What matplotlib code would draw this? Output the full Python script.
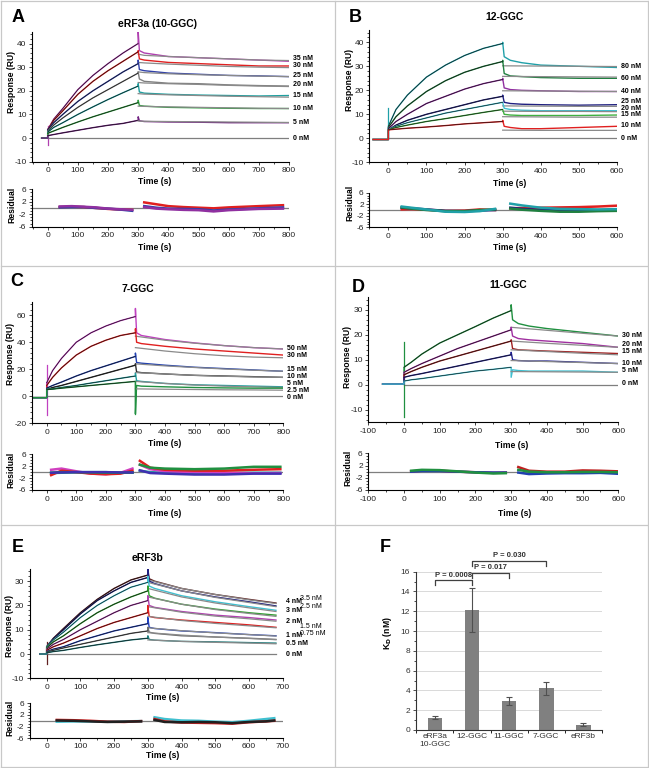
import matplotlib.pyplot as plt
from matplotlib.ticker import MultipleLocator, FixedLocator
from matplotlib.lines import Line2D
from matplotlib.transforms import blended_transform_factory

plt.rcParams['font.family'] = ['Liberation Sans', 'DejaVu Sans']
plt.rcParams['axes.unicode_minus'] = False

# ---------------- data ----------------
T_ASSOC = [0, 20, 50, 100, 150, 200, 250, 300]

# A: eRF3a (10-GGC)
a_conc = ['35 nM', '30 nM', '25 nM', '20 nM', '15 nM', '10 nM', '5 nM', '0 nM']
a_assoc = [[3.5, 8, 12.5, 20.5, 26.5, 31.5, 36, 40],
           [3.5, 7.5, 11.5, 18.5, 24, 28.5, 32.5, 36.5],
           [3.5, 6.5, 10, 15.5, 20, 24, 28, 31.5],
           [3, 5.5, 8.5, 13, 17, 20.5, 24, 27.5],
           [2.5, 4.5, 6.5, 10, 13.2, 16.3, 19.2, 22],
           [2, 3, 4.5, 6.8, 9, 11, 13, 15],
           [1, 1.5, 2.2, 3.3, 4.4, 5.4, 6.2, 7.5]]
a_td = [300, 304, 320, 400, 500, 600, 700, 800]
a_dissoc = [[45, 37, 36, 34.5, 34, 33.5, 33, 32.5],
            [37, 33.5, 33, 32, 31.5, 31, 30.5, 30.5],
            [33, 29, 28.5, 27.5, 27, 26.5, 26.3, 26],
            [28, 25, 24, 23.2, 23, 22.5, 22.2, 22],
            [23, 19.5, 19, 18.5, 18.2, 18, 17.8, 18],
            [16, 13.8, 13.5, 13, 12.8, 12.6, 12.5, 12.5],
            [9, 7.3, 7, 6.8, 6.7, 6.5, 6.5, 6.5]]
a_tf = [300, 320, 400, 500, 600, 700, 800]
a_fit = [[35.5, 35, 34.5, 34, 33.5, 33, 32.8],
         [32, 31.8, 31.3, 30.8, 30.3, 30, 29.8],
         [28, 27.7, 27.2, 26.8, 26.5, 26.2, 26],
         [23.5, 23.3, 23, 22.7, 22.3, 22, 21.8],
         [18.8, 18.6, 18.3, 18, 17.7, 17.5, 17.3],
         [13.5, 13.4, 13.2, 13, 12.8, 12.6, 12.5],
         [7.2, 7.1, 7, 6.9, 6.8, 6.7, 6.6]]
a_base = [-20, 0.0]
a_spike0 = [-3, 5]
a_lab_y = [33.5, 30.5, 26.5, 22.5, 18, 12.5, 6.5, 0]
a_res_ta = [40, 80, 120, 160, 200, 240, 280]
a_res_a = [[0.3, 0.4, 0.3, 0, -0.3, -0.5, -0.6],
           [0.2, 0.3, 0.3, 0, -0.2, -0.5, -0.9],
           [0.5, 0.6, 0.4, 0.2, -0.2, -0.4, -0.6]]
a_res_td = [320, 360, 400, 450, 500, 550, 600, 650, 700, 780]
a_res_d = [[1.8, 1.2, 0.6, 0.3, 0.1, -0.1, 0.2, 0.4, 0.6, 0.9],
           [0.6, 0.1, -0.2, -0.3, -0.4, -0.8, -0.5, -0.3, -0.1, 0.2],
           [0.3, -0.2, -0.4, -0.6, -0.7, -1.1, -0.7, -0.5, -0.3, -0.2]]

# B: 12-GGC
b_conc = ['80 nM', '60 nM', '40 nM', '25 nM', '20 nM', '15 nM', '10 nM', '0 nM']
b_assoc = [[5, 12, 18, 25.5, 30.5, 34.5, 37.5, 39.5],
           [4.5, 9, 13.5, 19.5, 24, 27.5, 30, 32],
           [4, 7, 10, 14.5, 17.5, 20.5, 22.8, 24.5],
           [3.5, 5.5, 7.5, 10, 12, 14, 16, 17.5],
           [3.5, 5, 6.5, 8.5, 10.5, 12, 13.5, 15],
           [3.5, 4.5, 5.5, 7, 8.2, 9.5, 10.8, 12],
           [3.5, 3.8, 4.2, 4.7, 5.3, 6, 6.5, 7]]
b_td = [300, 304, 320, 350, 400, 500, 600]
b_dissoc = [[40, 34, 32.5, 31.5, 30.5, 30, 29.5],
            [32.5, 27, 26, 25.7, 25.3, 25, 25],
            [25, 21, 20.3, 20, 19.8, 19.5, 19.5],
            [18, 15, 14.5, 14.2, 14, 13.8, 14],
            [15, 12.5, 12, 11.7, 11.5, 11.5, 11.5],
            [12, 10, 9.7, 9.5, 9.5, 9.5, 9.7],
            [7.5, 5, 4.5, 4, 4, 4.5, 5]]
b_tf = [300, 400, 500, 600]
b_fit = [[30.2, 30.1, 30, 29.9],
         [25.8, 25.7, 25.6, 25.5],
         [19.8, 19.7, 19.6, 19.5],
         [13.5, 13.4, 13.3, 13.3],
         [11.3, 11.2, 11.2, 11.1],
         [9, 8.9, 8.8, 8.8],
         [3.4, 3.3, 3.3, 3.3]]
b_base = [-40, -0.5]
b_spike0 = [-0.5, 12.5]
b_lab_y = [30, 25, 19.5, 15.5, 12.5, 10, 5.5, 0]
b_res_ta = [35, 60, 100, 150, 200, 240, 280]
b_res_a = [[0.2, 0.3, 0.1, -0.3, -0.2, 0.2, 0],
           [0.8, 0.6, 0.2, -0.3, -0.4, -0.2, 0],
           [0.9, 0.5, 0, -0.4, -0.4, 0, 0.2],
           [1.2, 0.8, 0.2, -0.6, -0.7, -0.4, 0.4]]
b_res_td = [320, 350, 400, 450, 500, 550, 600]
b_res_d = [[0.6, 0.7, 0.8, 0.9, 1.0, 1.2, 1.5],
           [0.8, 0.4, 0, -0.2, -0.2, -0.1, 0],
           [0.5, 0.1, -0.3, -0.6, -0.6, -0.4, -0.3],
           [2.2, 1.6, 0.8, 0.4, 0.3, 0.2, 0.3]]

# C: 7-GGC
c_conc = ['50 nM', '30 nM', '15 nM', '10 nM', '5 nM', '2.5 nM', '0 nM']
c_assoc = [[10, 19, 28, 40, 47, 52, 56, 59],
           [8, 14, 21, 30.5, 37, 41.5, 45, 47],
           [6, 8, 10.5, 15, 19, 22.5, 26, 29.5],
           [5, 6.5, 8, 11, 14, 17, 20, 23],
           [5, 5.5, 6.5, 8, 9.8, 11.5, 13.3, 15],
           [5, 5.3, 6, 7, 8, 9, 10, 11]]
c_td = [300, 304, 320, 400, 500, 600, 700, 800]
c_dissoc = [[65, 47, 45, 42, 39.5, 37.5, 36, 35],
            [50, 40, 39, 37, 35, 33.5, 32, 30.5],
            [32, 25, 24.5, 23, 21.5, 20.5, 19.5, 18.5],
            [24, 18, 17.5, 16.5, 15.5, 15, 14.5, 14],
            [17, 11.5, 11, 9.5, 8.5, 8, 7.5, 7],
            [-13, 8, 7.5, 7, 6.5, 6.2, 6, 6]]
c_tf = [300, 400, 500, 600, 700, 800]
c_fit = [[44.5, 41.5, 39.3, 37.5, 36, 35],
         [36, 33.5, 31.5, 30, 29, 28.5],
         [24, 22.5, 21.3, 20.2, 19.3, 18.5],
         [17.5, 16.5, 15.5, 14.8, 14.3, 14],
         [11, 9.5, 8.3, 7.5, 7, 6.5],
         [5.5, 5.2, 5, 4.8, 4.7, 4.5]]
c_base = [-50, -1]
c_spike0 = [-14, 23]
c_lab_y = [35.5, 30, 19.5, 14.5, 9.5, 4.5, -1]
c_res_ta = [15, 50, 100, 150, 200, 250, 290]
c_res_a = [[-0.3, -0.2, 0, 0, 0, -0.2, -0.2],
           [0.8, 1.2, 0.3, -0.5, -0.7, -0.2, 1.2],
           [-1.0, 0.5, 0, -0.5, -0.7, -0.5, 0.5],
           [-0.2, 0, 0, -0.1, -0.2, -0.2, -0.1],
           [-0.2, -0.1, 0, 0, 0, -0.1, -0.1]]
c_res_td = [315, 350, 400, 500, 600, 700, 790]
c_res_d = [[0.5, 0, -0.2, -0.3, -0.3, -0.2, -0.2],
           [2.5, 1.0, 0.3, 0, -0.2, -0.4, -0.3],
           [3.8, 1.5, 0.8, 0.5, 0.5, 0.8, 1.0],
           [2.5, 1.5, 1.2, 1.0, 1.2, 1.8, 1.8],
           [0.6, -0.3, -0.5, -0.8, -0.8, -0.5, -0.5]]

# D: 11-GGC
d_conc = ['30 nM', '20 nM', '15 nM', '10 nM', '5 nM', '0 nM']
d_assoc = [[7, 9, 12.3, 16.7, 20, 23.3, 26.7, 29.7],
           [5, 6.5, 8.5, 11.5, 14.5, 17, 19.5, 22],
           [4, 5.3, 7, 9.5, 11.5, 13.5, 15.5, 17.5],
           [3, 3.7, 4.5, 6, 7.5, 9, 10.5, 12],
           [1.5, 2, 2.5, 3.5, 4.5, 5.5, 6.2, 7]]
d_td = [300, 304, 320, 350, 400, 500, 600]
d_dissoc = [[32, 26, 24.5, 23.5, 22.5, 21, 19.5],
            [23, 19.5, 18.5, 18, 17.5, 16.5, 15],
            [18, 14.5, 14, 13.8, 13.5, 13, 12.5],
            [13, 10, 9.7, 9.5, 9.5, 9, 8.5],
            [3, 6, 5.7, 5.5, 5.5, 5.5, 5]]
d_tf = [300, 400, 500, 600]
d_fit = [[23, 21.8, 20.6, 19.5],
         [17.5, 16.6, 15.8, 15],
         [14, 13.3, 12.6, 12],
         [9.7, 9.3, 8.9, 8.5],
         [5.3, 5.2, 5.1, 5]]
d_base = [-60, 0.3]
d_spike0 = [-13, 17]
d_lab_y = [19.8, 16, 13.3, 8.7, 5.6, 0.5]
d_res_ta = [20, 50, 100, 150, 200, 250, 285]
d_res_a = [[0.1, 0.3, 0.3, 0, -0.2, -0.4, -0.3],
           [0, 0.2, 0.2, 0, -0.2, -0.3, -0.3],
           [0.3, 0.6, 0.5, 0.1, -0.3, -0.6, -0.5]]
d_res_td = [320, 350, 400, 450, 500, 550, 600]
d_res_d = [[1.5, 0.3, 0, 0, 0.4, 0.3, 0.1],
           [-0.3, -0.8, -0.6, -0.5, -0.5, -0.4, -0.7],
           [0.6, 0, -0.2, -0.2, -0.1, -0.1, -0.2]]

# E: eRF3b
e_conc = ['4 nM', '3.5 nM', '3 nM', '2.5 nM', '2 nM', '1.5 nM', '1 nM', '0.75 nM', '0.5 nM', '0 nM']
e_assoc = [[3, 6.5, 10.5, 17, 22.5, 27, 30.5, 32.5],
           [3, 6.3, 10, 16.5, 22, 26, 29.5, 31.5],
           [3, 5.8, 9, 15, 20, 24, 27.5, 29.5],
           [2.5, 5, 7.5, 12.5, 17, 20.5, 23.5, 26],
           [2, 4, 6, 10, 13.5, 17, 20, 22],
           [1.5, 3, 4.5, 7.5, 10.5, 13, 15, 17],
           [1, 2, 3, 5.5, 7.5, 9.5, 11, 12.5],
           [0.8, 1.5, 2.5, 4, 5.5, 7, 8.5, 9.5],
           [0.5, 1, 1.5, 2.7, 3.8, 4.8, 5.8, 6.5]]
e_td = [300, 304, 320, 400, 500, 600, 680]
e_dissoc = [[34, 31, 30, 27, 24.5, 22.5, 21],
            [36, 30, 29, 26, 23.5, 21.5, 19.8],
            [32, 28, 27, 24, 21.5, 19.5, 18],
            [28, 24, 23, 20.5, 18.5, 17, 16],
            [24, 20, 19.2, 17.5, 16, 15, 14],
            [20, 15.5, 15, 14, 13, 12, 11],
            [15, 11, 10.5, 9.5, 8.8, 8, 7.5],
            [11, 9, 8.5, 7.5, 7, 6.5, 6],
            [7.5, 6, 5.7, 5.2, 5, 4.7, 4.5]]
e_tf = [300, 400, 500, 600, 680]
e_fit = [[30.5, 27, 24.5, 22.3, 20.8],
         [29.5, 26, 23.3, 21.2, 19.5],
         [27, 23.5, 21, 19, 17.5],
         [23.5, 20.5, 18.3, 16.7, 15.5],
         [19.5, 17.2, 15.6, 14.5, 13.5],
         [15.5, 13.8, 12.6, 11.6, 10.8],
         [10.8, 9.6, 8.7, 8, 7.4],
         [8.8, 7.8, 7, 6.4, 5.9],
         [5.8, 5.2, 4.8, 4.5, 4.2]]
e_base = [-20, 0]
e_spike0 = [-4, 5]
e_lab_y = [21.5, 22.8, 18, 19.5, 13.5, 11.5, 7.5, 8.5, 4.5, 0]
e_res_ta = [30, 80, 130, 180, 230, 280]
e_res_a = [[-0.3, -0.2, -0.2, -0.3, -0.2, -0.1],
           [0.3, 0.2, 0, -0.3, -0.4, -0.1],
           [0.1, 0, -0.2, -0.4, -0.3, -0.2]]
e_res_td = [320, 350, 400, 450, 500, 550, 600, 650, 675]
e_res_d = [[1.2, 0.6, 0.1, 0, -0.3, -0.5, 0, 0.6, 0.9],
           [0.6, -0.2, -0.6, -0.7, -0.8, -1.0, -0.5, -0.2, 0],
           [0.3, -0.4, -0.5, -0.4, -0.5, -0.8, -0.4, -0.2, 0.1]]

# F: K_D summary
kd_names = ['eRF3a\n10-GGC', '12-GGC', '11-GGC', '7-GGC', 'eRF3b']
kd = [1.25, 12.15, 2.95, 4.2, 0.55]
kd_err = [0.17, 2.25, 0.42, 0.65, 0.12]
p_pairs = [(0, 1), (1, 2), (1, 3)]
p_text = ['P = 0.0008', 'P = 0.017', 'P = 0.030']
p_y = [15.15, 15.9, 17.1]

# ---------------- styles ----------------
a_colors = ['#b040b0', '#e02020', '#3040a8', '#808080', '#20a0a0', '#30a040', '#702080']
b_colors = ['#20a0a8', '#208040', '#9030a0', '#202080', '#40c0d0', '#40b040', '#e02020']
c_colors = ['#c040c0', '#e02020', '#2040b0', '#303030', '#20a0a0', '#209040']
d_colors = ['#209040', '#a030a0', '#a02020', '#202090', '#40c0d0']
e_colors = ['#602020', '#202080', '#40c0d0', '#30a030', '#b040b0', '#e02020', '#2040c0', '#707070', '#208080']
a_rcol = ['#e02020', '#3040a8', '#9030a0']
b_rcol = ['#e02020', '#202080', '#208040', '#20a0a8']
c_rcol = ['#20a0a0', '#d040c0', '#e02020', '#209040', '#4030b0']
d_rcol = ['#c02020', '#2040b0', '#209040']
e_rcol = ['#40c0d0', '#d02020', '#202020']

W, H = 649, 768
fig = plt.figure(figsize=(W / 100, H / 100), dpi=100)


def box(x0, y0, x1, y1):
    return fig.add_axes([x0 / W, 1 - y1 / H, (x1 - x0) / W, (y1 - y0) / H])


def ftext(x, y, s, **kw):
    fig.text(x / W, 1 - y / H, s, ha='center', va='center', **kw)


def style(ax, xlim, ylim, xmaj, ymaj, ymin):
    ax.set_xlim(xlim)
    ax.set_ylim(ylim)
    for s in ['top', 'right']:
        ax.spines[s].set_visible(False)
    for s in ['left', 'bottom']:
        ax.spines[s].set_linewidth(0.8)
    ax.xaxis.set_major_locator(MultipleLocator(xmaj))
    ax.xaxis.set_minor_locator(MultipleLocator(xmaj / 2))
    if isinstance(ymaj, list):
        ax.yaxis.set_major_locator(FixedLocator(ymaj))
    else:
        ax.yaxis.set_major_locator(MultipleLocator(ymaj))
    ax.yaxis.set_minor_locator(MultipleLocator(ymin))
    ax.tick_params(labelsize=6, length=2.5, width=0.6, pad=1.5, colors='#222222')
    ax.tick_params(which='minor', length=1.5, width=0.5)


def sensorgram(ax, conc, assoc, td, dissoc, tf, fit, base, spike0, colors, lab_y, two_col=False):
    ax.plot([0, td[-1]], [0, 0], color='#7f7f7f', lw=0.9)
    ax.plot([0, 0], spike0, color=colors[0], lw=0.9)
    for i in range(len(assoc)):
        x = [base[0], 0] + T_ASSOC + td
        y = [base[1], base[1]] + assoc[i] + dissoc[i]
        ax.plot(x, y, color=colors[i], lw=1.0)
        ax.plot(T_ASSOC, assoc[i], color='#111111', lw=0.45)
        ax.plot(tf, fit[i], color='#8a8a8a', lw=0.9)
    tr = blended_transform_factory(ax.transAxes, ax.transData)
    for i, (lab, y) in enumerate(zip(conc, lab_y)):
        right = two_col and i % 2 == 1 and i < 8
        ax.text(1.07 if right else 1.015, y, lab, transform=tr, fontsize=5,
                fontweight='normal' if right else 'bold', va='center', ha='left')


def residual(ax, ta, ra, td, rd, colors):
    ax.axhline(0, color='#7f7f7f', lw=0.9)
    for i, c in enumerate(colors):
        ax.plot(ta, ra[i], color=c, lw=1.8)
        ax.plot(td, rd[i], color=c, lw=1.8)


RES_TICKS = [-6, -2, 2, 6]
lab_kw = dict(fontsize=6.2, fontweight='bold')

# ---- A
ax = box(32, 31.7, 289, 161.7)
sensorgram(ax, a_conc, a_assoc, a_td, a_dissoc, a_tf, a_fit, a_base, a_spike0, a_colors, a_lab_y)
style(ax, (-52, 800), (-10, 45), 100, 10, 2)
ax = box(32, 189.3, 289, 226.7)
residual(ax, a_res_ta, a_res_a, a_res_td, a_res_d, a_rcol)
style(ax, (-52, 800), (-6, 6), 100, RES_TICKS, 1)
ftext(18, 18, 'A', fontsize=13, fontweight='bold')
ftext(157, 24, 'eRF3a (10-GGC)', fontsize=7.5, fontweight='bold')
ftext(12, 82, 'Response (RU)', rotation=90, **lab_kw)
ftext(12, 205, 'Residual', rotation=90, **lab_kw)
ftext(155, 182, 'Time (s)', **lab_kw)
ftext(155, 248, 'Time (s)', **lab_kw)

# ---- B
ax = box(369.3, 30.3, 617, 162.3)
sensorgram(ax, b_conc, b_assoc, b_td, b_dissoc, b_tf, b_fit, b_base, b_spike0, b_colors, b_lab_y)
style(ax, (-50, 600), (-10, 45), 100, 10, 2)
ax = box(369.3, 192.7, 617, 227.3)
residual(ax, b_res_ta, b_res_a, b_res_td, b_res_d, b_rcol)
style(ax, (-50, 600), (-6, 6), 100, RES_TICKS, 1)
ftext(355, 17, 'B', fontsize=13, fontweight='bold')
ftext(505, 17, '12-GGC', fontsize=7.5, fontweight='bold')
ftext(350, 80, 'Response (RU)', rotation=90, **lab_kw)
ftext(350, 203, 'Residual', rotation=90, **lab_kw)
ftext(510, 184, 'Time (s)', **lab_kw)
ftext(510, 247, 'Time (s)', **lab_kw)

# ---- C
ax = box(31.9, 301.7, 283.3, 423.3)
sensorgram(ax, c_conc, c_assoc, c_td, c_dissoc, c_tf, c_fit, c_base, c_spike0, c_colors, c_lab_y)
ax.plot([300, 300], [c_dissoc[-1][0], c_assoc[-1][-1]], color=c_colors[-1], lw=0.9)
style(ax, (-50, 800), (-20, 70), 100, 20, 4)
ax = box(31.9, 454.3, 283.3, 490)
residual(ax, c_res_ta, c_res_a, c_res_td, c_res_d, c_rcol)
style(ax, (-50, 800), (-6, 6), 100, RES_TICKS, 1)
ftext(17, 281, 'C', fontsize=13, fontweight='bold')
ftext(138, 289, '7-GGC', fontsize=7.5, fontweight='bold')
ftext(11, 354, 'Response (RU)', rotation=90, **lab_kw)
ftext(11, 470, 'Residual', rotation=90, **lab_kw)
ftext(165, 443, 'Time (s)', **lab_kw)
ftext(165, 513, 'Time (s)', **lab_kw)

# ---- D
ax = box(368.3, 297.3, 618.3, 422.3)
sensorgram(ax, d_conc, d_assoc, d_td, d_dissoc, d_tf, d_fit, d_base, d_spike0, d_colors, d_lab_y)
style(ax, (-100, 600), (-15, 35), 100, 10, 2)
ax = box(368.3, 453.3, 618.3, 490)
residual(ax, d_res_ta, d_res_a, d_res_td, d_res_d, d_rcol)
style(ax, (-100, 600), (-6, 6), 100, RES_TICKS, 1)
ftext(358, 288, 'D', fontsize=13, fontweight='bold')
ftext(508, 285, '11-GGC', fontsize=7.5, fontweight='bold')
ftext(348, 357, 'Response (RU)', rotation=90, **lab_kw)
ftext(348, 468, 'Residual', rotation=90, **lab_kw)
ftext(512, 445, 'Time (s)', **lab_kw)
ftext(515, 513, 'Time (s)', **lab_kw)

# ---- E
ax = box(29.8, 569, 282.7, 678.3)
sensorgram(ax, e_conc, e_assoc, e_td, e_dissoc, e_tf, e_fit, e_base, e_spike0, e_colors, e_lab_y, two_col=True)
style(ax, (-50, 700), (-10, 35), 100, 10, 2)
ax = box(29.8, 703.3, 282.7, 738.3)
residual(ax, e_res_ta, e_res_a, e_res_td, e_res_d, e_rcol)
style(ax, (-50, 700), (-6, 6), 100, RES_TICKS, 1)
ax.tick_params(axis='x', pad=1)
ftext(18, 548, 'E', fontsize=13, fontweight='bold')
ftext(148, 558, 'eRF3b', fontsize=7.5, fontweight='bold')
ftext(10, 626, 'Response (RU)', rotation=90, **lab_kw)
ftext(10, 718, 'Residual', rotation=90, **lab_kw)
ftext(163, 697, 'Time (s)', **lab_kw)
ftext(163, 756, 'Time (s)', **lab_kw)

# ---- F
ax = box(415.7, 571.7, 601.7, 730)
ax.set_axisbelow(True)
ax.grid(axis='y', color='#d9d9d9', lw=0.7)
ax.bar(range(len(kd)), kd, width=0.4, color='#808080', yerr=kd_err, capsize=2,
       error_kw=dict(ecolor='#505050', elinewidth=0.8, capthick=0.8))
ax.set_xlim(-0.52, 4.5)
ax.set_ylim(0, 16)
for s in ['top', 'right']:
    ax.spines[s].set_visible(False)
for s in ['left', 'bottom']:
    ax.spines[s].set_color('#333333')
    ax.spines[s].set_linewidth(0.8)
ax.yaxis.set_major_locator(MultipleLocator(2))
ax.yaxis.set_minor_locator(MultipleLocator(1))
ax.set_xticks(range(len(kd)))
ax.set_xticklabels(kd_names)
ax.xaxis.set_minor_locator(MultipleLocator(1, offset=0.5))
ax.tick_params(axis='x', which='major', length=0, labelsize=6, pad=2, colors='#333333')
ax.tick_params(axis='x', which='minor', length=2, width=0.6)
ax.tick_params(axis='y', labelsize=6, length=2.5, width=0.6, pad=1.5, colors='#333333')
ax.tick_params(axis='y', which='minor', length=1.5, width=0.5)
for (i, j), txt, y in zip(p_pairs, p_text, p_y):
    ax.plot([i, i, j, j], [y - 0.5, y, y, y - 0.5], color='#404040', lw=0.9, clip_on=False)
    ax.text((i + j) / 2, y + 0.15, txt, ha='center', va='bottom', fontsize=5.5,
            fontweight='bold', color='#333333')
ftext(385, 548, 'F', fontsize=13, fontweight='bold')
ftext(388, 633, 'K$_\\mathbf{D}$ (nM)', rotation=90, **lab_kw)

# ---- panel frame
fc = '#c8c8c8'
for xs, ys in [([335, 335], [0.5, 767]), ([0.5, 648], [266, 266]), ([0.5, 648], [525, 525]),
               ([0.5, 0.5], [0.5, 767]), ([648, 648], [0.5, 767]),
               ([0.5, 648], [0.5, 0.5]), ([0.5, 648], [767, 767])]:
    fig.add_artist(Line2D([x / W for x in xs], [1 - y / H for y in ys], color=fc, lw=0.9))

fig.savefig('out.png', dpi=100)
